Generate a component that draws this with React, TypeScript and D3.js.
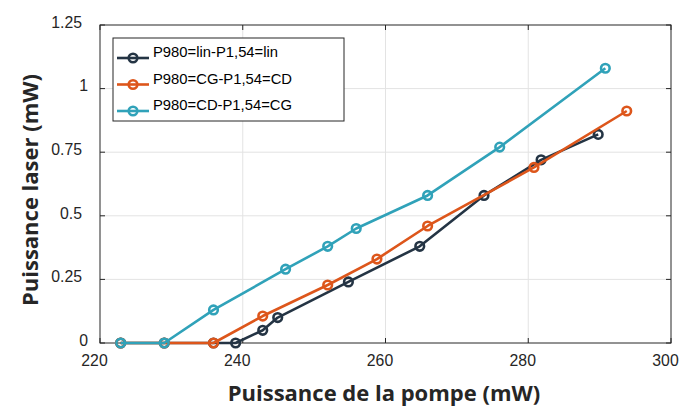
import React from "react";
import * as d3 from "d3";

const seriesNames = ["P980=lin-P1,54=lin", "P980=CG-P1,54=CD", "P980=CD-P1,54=CG"];
const seriesColors = ["#243444", "#dd561b", "#30a2b9"];

const darkX = [222.9, 229, 235.9, 239, 242.8, 244.9, 254.8, 264.8, 273.8, 281.8, 289.8];
const darkY = [0, 0, 0, 0, 0.05, 0.1, 0.24, 0.38, 0.58, 0.72, 0.82];
const orangeX = [222.9, 229, 235.9, 242.8, 251.9, 258.8, 265.9, 280.8, 293.8];
const orangeY = [0, 0, 0, 0.106, 0.228, 0.33, 0.46, 0.69, 0.912];
const cyanX = [222.9, 229, 235.9, 246, 251.9, 255.9, 265.9, 276, 290.8];
const cyanY = [0, 0, 0.13, 0.29, 0.38, 0.45, 0.58, 0.77, 1.08];

const xTicks = [220, 240, 260, 280, 300];
const yTicks = [0, 0.25, 0.5, 0.75, 1, 1.25];
const yTickLabels = ["0", "0.25", "0.5", "0.75", "1", "1.25"];

const xTitle = "Puissance de la pompe (mW)";
const yTitle = "Puissance laser (mW)";

export default function App() {
  const left = 100, right = 671, top = 25, bottom = 343;
  const x = d3.scaleLinear().domain([220, 300]).range([left, right]);
  const y = d3.scaleLinear().domain([0, 1.25]).range([bottom, top]);
  const line = d3.line<[number, number]>().x(d => x(d[0])).y(d => y(d[1]));
  const series = [
    darkX.map((v, i) => [v, darkY[i]] as [number, number]),
    orangeX.map((v, i) => [v, orangeY[i]] as [number, number]),
    cyanX.map((v, i) => [v, cyanY[i]] as [number, number]),
  ];
  const axisColor = "#262626";
  const grid = "#e3e3e3";
  const tl = 5;
  const font = "Liberation Sans, Arial, sans-serif";
  const lg = { x: 113, y: 38, w: 231, h: 83 };
  return (
    <svg width={679} height={411} style={{ position: "absolute", left: 0, top: 0, background: "#fff" }}>
      <rect x={0} y={0} width={679} height={411} fill="#fff" />
      {xTicks.slice(1, -1).map(t => (
        <line key={"gx" + t} x1={x(t)} x2={x(t)} y1={top} y2={bottom} stroke={grid} strokeWidth={1} />
      ))}
      {yTicks.slice(1, -1).map(t => (
        <line key={"gy" + t} x1={left} x2={right} y1={y(t)} y2={y(t)} stroke={grid} strokeWidth={1} />
      ))}
      <rect x={left} y={top} width={right - left} height={bottom - top} fill="none" stroke={axisColor} strokeWidth={1} />
      {xTicks.map(t => (
        <g key={"tx" + t}>
          <line x1={x(t)} x2={x(t)} y1={bottom} y2={bottom - tl} stroke={axisColor} />
          <line x1={x(t)} x2={x(t)} y1={top} y2={top + tl} stroke={axisColor} />
          <text x={x(t) - 5.5} y={366} textAnchor="middle" fontFamily={font} fontSize={15.8} fill={axisColor}>{t}</text>
        </g>
      ))}
      {yTicks.map((t, i) => (
        <g key={"ty" + t}>
          <line x1={left} x2={left + tl} y1={y(t)} y2={y(t)} stroke={axisColor} />
          <line x1={right} x2={right - tl} y1={y(t)} y2={y(t)} stroke={axisColor} />
          <text x={yTickLabels[i].includes(".") ? 82 : 88} y={y(t) + 2.7} textAnchor="end" fontFamily={font} fontSize={15.8} fill={axisColor}>{yTickLabels[i]}</text>
        </g>
      ))}
      {series.map((s, i) => (
        <g key={"s" + i}>
          <path d={line(s) || ""} fill="none" stroke={seriesColors[i]} strokeWidth={2.6} strokeLinejoin="round" />
          {s.map((p, j) => (
            <circle key={j} cx={x(p[0])} cy={y(p[1])} r={4.3} fill="none" stroke={seriesColors[i]} strokeWidth={2.6} />
          ))}
        </g>
      ))}
      <rect x={lg.x} y={lg.y} width={lg.w} height={lg.h} fill="#fff" stroke={axisColor} strokeWidth={1} />
      {seriesNames.map((n, i) => {
        const ly = 58 + i * 26.5;
        return (
          <g key={"l" + i}>
            <line x1={117} x2={149} y1={ly} y2={ly} stroke={seriesColors[i]} strokeWidth={2.6} />
            <circle cx={133} cy={ly} r={4.3} fill="none" stroke={seriesColors[i]} strokeWidth={2.6} />
            <text x={153} y={ly - 1} fontFamily={font} fontSize={14.8} fill="#000">{n}</text>
          </g>
        );
      })}
      <text x={384} y={401} textAnchor="middle" fontFamily="Open Sans, sans-serif" fontWeight="bold" fontSize={22} fill="#262626">{xTitle}</text>
      <text transform={`translate(38,${190}) rotate(-90)`} textAnchor="middle" fontFamily="Open Sans, sans-serif" fontWeight="bold" fontSize={22} fill="#262626">{yTitle}</text>
    </svg>
  );
}
